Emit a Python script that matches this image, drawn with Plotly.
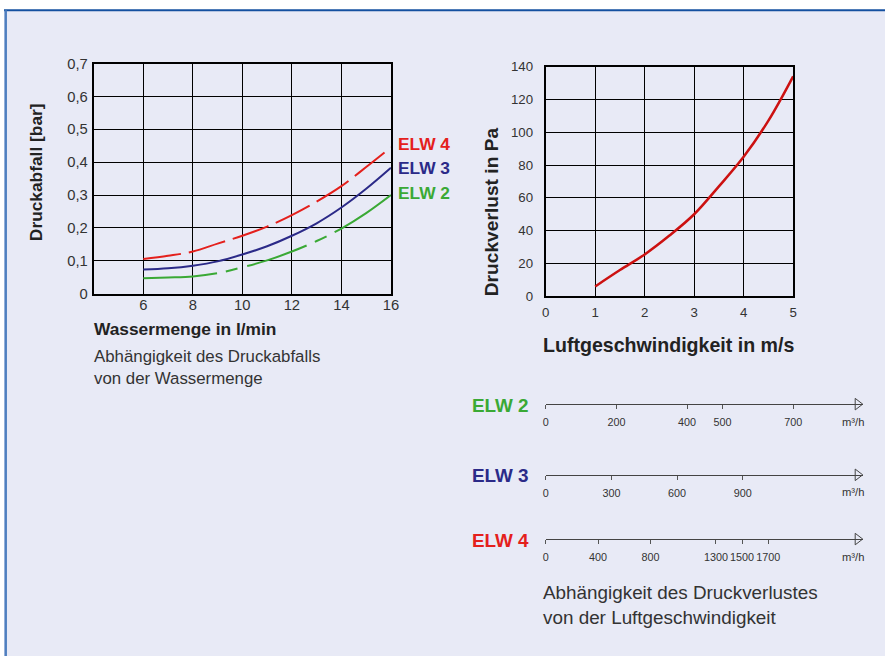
import plotly.graph_objects as go

W, H = 893, 664

# ---------------- data ----------------
flow_lpm = [6, 7, 8, 9, 10, 11, 12, 13, 14, 15, 16]
drop_elw4 = [0.105, 0.115, 0.128, 0.152, 0.176, 0.204, 0.239, 0.280, 0.327, 0.385, 0.445]
drop_elw3 = [0.073, 0.077, 0.085, 0.098, 0.119, 0.144, 0.176, 0.214, 0.262, 0.319, 0.383]
drop_elw2 = [0.047, 0.049, 0.052, 0.062, 0.080, 0.101, 0.128, 0.160, 0.198, 0.245, 0.300]

left_xticks = [6, 8, 10, 12, 14, 16]
left_yticks = [0, 0.1, 0.2, 0.3, 0.4, 0.5, 0.6, 0.7]
left_ytext = ["0", "0,1", "0,2", "0,3", "0,4", "0,5", "0,6", "0,7"]

air_speed = [1, 1.5, 2, 2.5, 3, 3.5, 4, 4.5, 5]
pressure_loss = [6, 16, 25.5, 37, 50, 67, 85, 107, 134]
right_xticks = [0, 1, 2, 3, 4, 5]
right_yticks = [0, 20, 40, 60, 80, 100, 120, 140]

# volume-flow scales (m³/h) aligned with air speed axis
scale_names = ["ELW 2", "ELW 3", "ELW 4"]
scale_ticks = {
    "ELW 2": [0, 200, 400, 500, 700],
    "ELW 3": [0, 300, 600, 900],
    "ELW 4": [0, 400, 800, 1300, 1500, 1700],
}
flow_per_ms = {"ELW 2": 140, "ELW 3": 226, "ELW 4": 378}
scale_end_ms = 6.415

# ---------------- styles ----------------
BG = "rgb(232,234,246)"
RED = "#E4201C"
BLUE = "#2B2A88"
GREEN = "#3AA935"
DARKRED = "#CC1111"
TXT = "#333333"
FONT = "Liberation Sans, Arial, Helvetica, sans-serif"

# mapping from target picture pixels to figure paper coordinates
SX, OX = 0.986, 5.3
SY, OY = 0.980, 6.2

def px_x(p):
    return ((p - OX) / SX) / W

def px_y(p):
    return 1 - ((p - OY) / SY) / H

def fs(s):
    return s / SY

fig = go.Figure()

# left chart curves
fig.add_trace(go.Scatter(x=flow_lpm, y=drop_elw4, mode="lines", line=dict(color=RED, width=2, dash="38px,8px", shape="spline"),
                         xaxis="x", yaxis="y", hoverinfo="skip"))
fig.add_trace(go.Scatter(x=flow_lpm, y=drop_elw3, mode="lines", line=dict(color=BLUE, width=2, shape="spline"),
                         xaxis="x", yaxis="y", hoverinfo="skip"))
fig.add_trace(go.Scatter(x=flow_lpm, y=drop_elw2, mode="lines",
                         line=dict(color=GREEN, width=2, shape="spline",
                                   dash="74px,9px,12px,10px,63px,9px,13px,9px,400px"),
                         xaxis="x", yaxis="y", hoverinfo="skip"))

# right chart curve
fig.add_trace(go.Scatter(x=air_speed, y=pressure_loss, mode="lines", line=dict(color=DARKRED, width=2.5, shape="spline"),
                         xaxis="x2", yaxis="y2", hoverinfo="skip"))

grid_common = dict(showgrid=True, gridcolor="black", gridwidth=1.4, zeroline=False,
                   showline=True, linecolor="black", linewidth=2, mirror=True, ticks="")
left_font = dict(family=FONT, size=fs(14.5), color=TXT)
right_font = dict(family=FONT, size=fs(13), color=TXT)

layout = dict(
    width=W, height=H, margin=dict(l=0, r=0, t=0, b=0),
    paper_bgcolor="white", plot_bgcolor="rgba(0,0,0,0)", showlegend=False,
    font=dict(family=FONT, color=TXT),
    xaxis=dict(domain=[px_x(95), px_x(392)], range=[4, 16], tickvals=left_xticks, anchor="y",
               ticklabelstandoff=-3, tickfont=left_font, **grid_common),
    yaxis=dict(domain=[px_y(293), px_y(62)], range=[0, 0.7], tickvals=left_yticks, ticktext=left_ytext,
               anchor="x", ticklabelstandoff=1, tickfont=left_font, **grid_common),
    xaxis2=dict(domain=[px_x(546.7), px_x(794)], range=[0, 5], tickvals=right_xticks, anchor="y2",
                ticklabelstandoff=3, tickfont=right_font, **grid_common),
    yaxis2=dict(domain=[px_y(295.7), px_y(65)], range=[0, 140], tickvals=right_yticks, anchor="x2",
                ticklabelstandoff=8, tickfont=right_font, **grid_common),
)

line_y = {"ELW 2": 404, "ELW 3": 475, "ELW 4": 539.5}
label_colors = {"ELW 2": GREEN, "ELW 3": BLUE, "ELW 4": RED}
annotations = []
for i, name in enumerate(scale_names):
    k = i + 3
    end = flow_per_ms[name] * scale_end_ms
    ly = line_y[name]
    layout[f"xaxis{k}"] = dict(domain=[px_x(546.7), px_x(864)], range=[0, end], tickvals=scale_ticks[name],
                               anchor=f"y{k}", showgrid=False, zeroline=False, showline=True,
                               linecolor="#444444", linewidth=1.2, ticks="outside", ticklen=4,
                               tickcolor="#555555", tickwidth=1, tickangle=0, ticklabelstandoff=4,
                               tickfont=dict(family=FONT, size=fs(10.6), color=TXT))
    layout[f"yaxis{k}"] = dict(domain=[px_y(ly), px_y(ly) + 0.02], range=[0, 1], visible=False,
                               anchor=f"x{k}")
    fig.add_trace(go.Scatter(x=[end * (1 - 5.5 / 317.3)], y=[0], mode="markers",
                             marker=dict(symbol="triangle-right-open", size=10, color="#444444",
                                         line=dict(width=1, color="#444444")),
                             xaxis=f"x{k}", yaxis=f"y{k}", cliponaxis=False, hoverinfo="skip"))
    annotations.append(dict(x=px_x(532), y=px_y(ly + 1), xref="paper", yref="paper", text=f"<b>{name}</b>",
                            xanchor="right", yanchor="middle", showarrow=False,
                            font=dict(family=FONT, size=fs(18.5), color=label_colors[name])))
    annotations.append(dict(x=px_x(854), y=px_y(ly + 17.7), xref="paper", yref="paper", text="m³/h",
                            xanchor="center", yanchor="middle", showarrow=False,
                            font=dict(family=FONT, size=fs(11), color=TXT)))

# left chart series labels
for name, yy in [("ELW 4", 142.7), ("ELW 3", 166.7), ("ELW 2", 191.7)]:
    annotations.append(dict(x=px_x(397), y=px_y(yy), xref="paper", yref="paper", text=f"<b>{name}</b>",
                            xanchor="left", yanchor="middle", showarrow=False,
                            font=dict(family=FONT, size=fs(17), color=label_colors[name])))

# axis titles and captions
annotations += [
    dict(x=px_x(37.5), y=px_y(170.8), xref="paper", yref="paper", text="<b>Druckabfall [bar]</b>", textangle=-90,
         xanchor="center", yanchor="middle", showarrow=False, font=dict(family=FONT, size=fs(17), color="#222222")),
    dict(x=px_x(93), y=px_y(329), xref="paper", yref="paper", text="<b>Wassermenge in l/min</b>",
         xanchor="left", yanchor="middle", showarrow=False, font=dict(family=FONT, size=fs(17), color="#222222")),
    dict(x=px_x(93), y=px_y(367.5), xref="paper", yref="paper",
         text="Abhängigkeit des Druckabfalls<br>von der Wassermenge", align="left",
         xanchor="left", yanchor="middle", showarrow=False, font=dict(family=FONT, size=fs(16.5), color=TXT)),
    dict(x=px_x(493.3), y=px_y(211), xref="paper", yref="paper", text="<b>Druckverlust in Pa</b>", textangle=-90,
         xanchor="center", yanchor="middle", showarrow=False, font=dict(family=FONT, size=fs(18.8), color="#222222")),
    dict(x=px_x(669), y=px_y(345), xref="paper", yref="paper", text="<b>Luftgeschwindigkeit in m/s</b>",
         xanchor="center", yanchor="middle", showarrow=False, font=dict(family=FONT, size=fs(19.2), color="#222222")),
    dict(x=px_x(542), y=px_y(606), xref="paper", yref="paper",
         text="Abhängigkeit des Druckverlustes<br>von der Luftgeschwindigkeit", align="left",
         xanchor="left", yanchor="middle", showarrow=False, font=dict(family=FONT, size=fs(18.5), color=TXT)),
]
layout["annotations"] = annotations

layout["shapes"] = [
    dict(type="rect", xref="paper", yref="paper", x0=0, x1=1, y0=0, y1=px_y(8.5),
         fillcolor=BG, line=dict(width=0), layer="below"),
    dict(type="line", xref="paper", yref="paper", x0=0, x1=1, y0=px_y(8.5), y1=px_y(8.5),
         line=dict(color="#1450A0", width=2), layer="below"),
    dict(type="line", xref="paper", yref="paper", x0=px_x(7), x1=px_x(7), y0=0, y1=px_y(8.5),
         line=dict(color="#4F7FBF", width=2.5), layer="below"),
]

fig.update_layout(**layout)
post = (
    "document.documentElement.style.margin='0';document.documentElement.style.padding='0';"
    "document.documentElement.style.overflow='hidden';"
    "document.documentElement.style.background='linear-gradient(#ffffff,#ffffff) top left/100% 8px no-repeat, rgb(232,234,246)';"
    "document.body.style.margin='0';document.body.style.padding='0';document.body.style.overflow='hidden';"
    "document.body.style.background='transparent';"
    "var gd=document.getElementById('{plot_id}');gd.style.position='fixed';gd.style.left='0px';gd.style.top='0px';"
)
fig.write_html("out.html", config={"displayModeBar": False}, post_script=post)
